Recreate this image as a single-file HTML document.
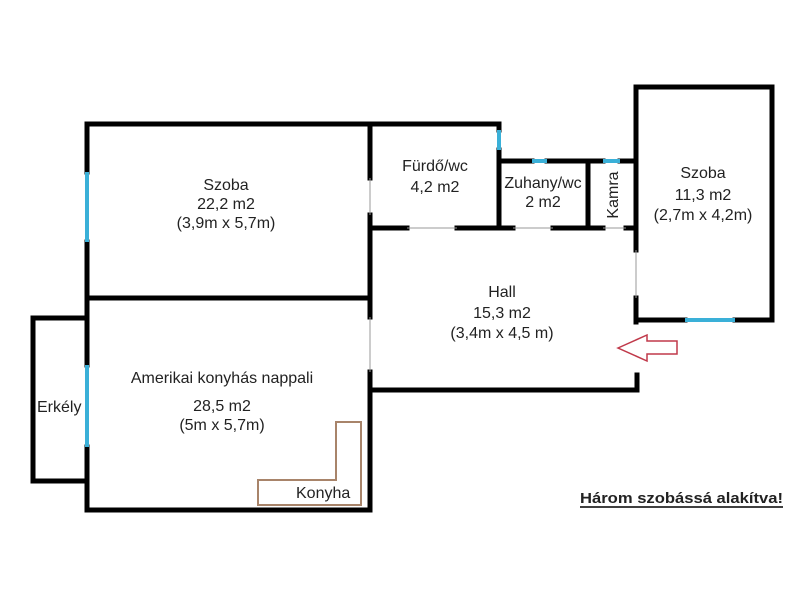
<!DOCTYPE html>
<html><head><meta charset="utf-8"><style>
html,body{margin:0;padding:0;background:#fff;width:800px;height:600px;overflow:hidden}
text{font-family:"Liberation Sans",sans-serif;fill:#222;font-size:16px}
</style></head><body>
<svg width="800" height="600" viewBox="0 0 800 600" xmlns="http://www.w3.org/2000/svg">
<g stroke="#000" stroke-width="5" fill="none" stroke-linecap="square">
<line x1="87" y1="124" x2="499" y2="124"/>
<line x1="87" y1="124" x2="87" y2="172"/>
<line x1="87" y1="242" x2="87" y2="365"/>
<line x1="87" y1="447" x2="87" y2="510"/>
<line x1="87" y1="510" x2="370" y2="510"/>
<line x1="87" y1="298" x2="370" y2="298"/>
<line x1="370" y1="124" x2="370" y2="178"/>
<line x1="370" y1="215" x2="370" y2="317"/>
<line x1="370" y1="372" x2="370" y2="510"/>
<polyline points="87,318 33,318 33,481 87,481"/>
<line x1="499" y1="124" x2="499" y2="130"/>
<line x1="499" y1="150" x2="499" y2="228"/>
<line x1="370" y1="228" x2="407" y2="228"/>
<line x1="457" y1="228" x2="513" y2="228"/>
<line x1="553" y1="228" x2="603" y2="228"/>
<line x1="626" y1="228" x2="636" y2="228"/>
<line x1="499" y1="161" x2="532" y2="161"/>
<line x1="547" y1="161" x2="603" y2="161"/>
<line x1="620" y1="161" x2="636" y2="161"/>
<line x1="588" y1="161" x2="588" y2="228"/>
<line x1="636" y1="87" x2="772" y2="87"/>
<line x1="772" y1="87" x2="772" y2="320"/>
<line x1="636" y1="87" x2="636" y2="250"/>
<line x1="636" y1="298" x2="636" y2="322"/>
<line x1="636" y1="320" x2="685" y2="320"/>
<line x1="735" y1="320" x2="772" y2="320"/>
<line x1="370" y1="390" x2="637" y2="390"/>
<line x1="637" y1="375" x2="637" y2="390"/>
</g>
<g stroke="#3ab0d8" stroke-width="4">
<line x1="87" y1="172" x2="87" y2="242"/>
<line x1="87" y1="365" x2="87" y2="447"/>
<line x1="499" y1="130" x2="499" y2="150"/>
<line x1="532" y1="161" x2="547" y2="161"/>
<line x1="603" y1="161" x2="620" y2="161"/>
<line x1="685" y1="320" x2="735" y2="320"/>
</g>
<g stroke="#999" stroke-width="1">
<line x1="370" y1="178" x2="370" y2="215"/>
<line x1="370" y1="317" x2="370" y2="372"/>
<line x1="407" y1="228" x2="457" y2="228"/>
<line x1="513" y1="228" x2="553" y2="228"/>
<line x1="603" y1="228" x2="626" y2="228"/>
<line x1="636" y1="250" x2="636" y2="298"/>
</g>
<polygon points="258,480 336,480 336,422 361,422 361,505 258,505" fill="none" stroke="#a8846a" stroke-width="2"/>
<polygon points="618,348 647,335 647,341 677,341 677,354 647,354 647,361" fill="none" stroke="#c0394a" stroke-width="1.5"/>
<text x="226" y="190" text-anchor="middle">Szoba</text>
<text x="226" y="209" text-anchor="middle">22,2 m2</text>
<text x="226" y="228" text-anchor="middle">(3,9m x 5,7m)</text>
<text x="435" y="171" text-anchor="middle">Fürdő/wc</text>
<text x="435" y="192" text-anchor="middle">4,2 m2</text>
<text x="543" y="188" text-anchor="middle">Zuhany/wc</text>
<text x="543" y="207" text-anchor="middle">2 m2</text>
<text transform="translate(618,195) rotate(-90)" text-anchor="middle">Kamra</text>
<text x="703" y="178" text-anchor="middle">Szoba</text>
<text x="703" y="200" text-anchor="middle">11,3 m2</text>
<text x="703" y="220" text-anchor="middle">(2,7m x 4,2m)</text>
<text x="502" y="297" text-anchor="middle">Hall</text>
<text x="502" y="318" text-anchor="middle">15,3 m2</text>
<text x="502" y="338" text-anchor="middle">(3,4m x 4,5 m)</text>
<text x="222" y="383" text-anchor="middle">Amerikai konyhás nappali</text>
<text x="222" y="411" text-anchor="middle">28,5 m2</text>
<text x="222" y="430" text-anchor="middle">(5m x 5,7m)</text>
<text x="37" y="412">Erkély</text>
<text x="296" y="498">Konyha</text>
<text x="580" y="503" style="font-weight:bold;font-size:15px" textLength="203" lengthAdjust="spacingAndGlyphs">Három szobássá alakítva!</text>
<line x1="580" y1="507" x2="783" y2="507" stroke="#000" stroke-width="1.5"/>
</svg>
</body></html>
